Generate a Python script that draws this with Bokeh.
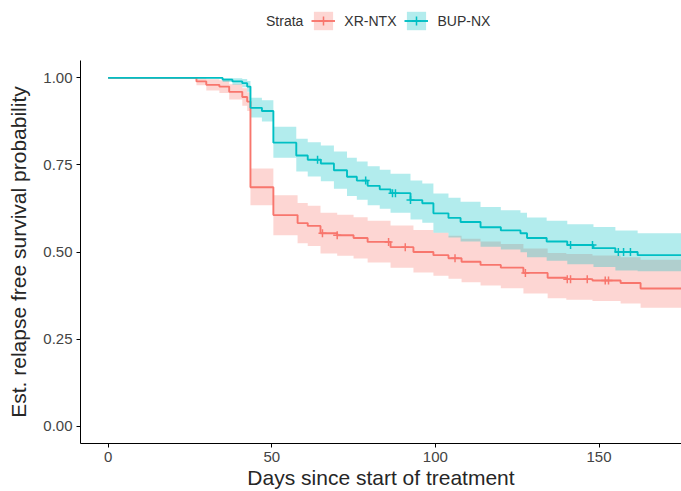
import numpy as np
from bokeh.plotting import figure
from bokeh.layouts import column
from bokeh.models import (Legend, LegendItem, FixedTicker,
                          NumeralTickFormatter, Range1d)
from bokeh.embed import file_html
from bokeh.resources import INLINE

# ---------------- data ----------------
# XR-NTX (red)
xr_t = [0, 27, 30, 34, 37, 41, 42.5, 43.5, 50.5, 57.9, 61, 64.9, 70, 75, 79.3,
        86.3, 93.3, 99.4, 104, 108, 113.8, 120, 126.9, 134.3, 140, 148, 156.6,
        162.7, 177]
xr_s = [1.000, 0.990, 0.980, 0.975, 0.960, 0.945, 0.932, 0.686, 0.606, 0.583,
        0.575, 0.554, 0.548, 0.540, 0.529, 0.514, 0.500, 0.491, 0.482, 0.472,
        0.463, 0.455, 0.440, 0.426, 0.422, 0.418, 0.411, 0.395, 0.395]
xr_up = [1.000, 1.000, 0.996, 0.993, 0.982, 0.970, 0.959, 0.740, 0.663, 0.641,
         0.633, 0.613, 0.607, 0.600, 0.590, 0.576, 0.563, 0.555, 0.547, 0.538,
         0.530, 0.523, 0.510, 0.497, 0.494, 0.490, 0.485, 0.478, 0.478]
xr_lo = [1.000, 0.979, 0.964, 0.957, 0.938, 0.920, 0.905, 0.634, 0.548, 0.525,
         0.517, 0.496, 0.489, 0.481, 0.470, 0.455, 0.441, 0.432, 0.423, 0.413,
         0.404, 0.396, 0.381, 0.367, 0.363, 0.359, 0.352, 0.340, 0.340]
xr_cens = [65.5, 70, 85.7, 90.8, 106, 127.5, 140.3, 141.3, 146.4, 151.9, 152.9]

# BUP-NX (teal)
bup_t = [0, 35, 38, 41, 42.5, 43.5, 47, 50.5, 57.5, 61, 65, 69, 73, 76, 79.3,
         83, 86.3, 92.4, 96, 99.4, 104, 107.7, 113.8, 120, 126, 128, 134,
         140.3, 148.3, 155, 161.8, 177]
bup_s = [1.000, 0.995, 0.990, 0.985, 0.975, 0.914, 0.905, 0.814, 0.777, 0.765,
         0.754, 0.735, 0.716, 0.705, 0.690, 0.680, 0.669, 0.649, 0.640, 0.611,
         0.598, 0.586, 0.571, 0.562, 0.554, 0.540, 0.530, 0.520, 0.511, 0.500,
         0.491, 0.491]
bup_up = [1.000, 1.000, 0.999, 0.997, 0.991, 0.943, 0.936, 0.860, 0.825, 0.815,
          0.806, 0.789, 0.771, 0.760, 0.746, 0.736, 0.725, 0.705, 0.697, 0.668,
          0.656, 0.644, 0.629, 0.620, 0.613, 0.599, 0.590, 0.580, 0.572, 0.562,
          0.554, 0.554]
bup_lo = [1.000, 0.988, 0.980, 0.973, 0.960, 0.886, 0.875, 0.771, 0.731, 0.717,
          0.703, 0.682, 0.661, 0.650, 0.634, 0.624, 0.613, 0.593, 0.584, 0.555,
          0.542, 0.530, 0.515, 0.507, 0.499, 0.485, 0.475, 0.465, 0.457, 0.447,
          0.445, 0.445]
bup_cens = [64, 78.7, 86.9, 87.8, 92.4, 141.3, 148, 155.9, 157.5, 159.6]

x_ticks = [0, 50, 100, 150]
y_ticks = [0, 0.25, 0.5, 0.75, 1.0]

legend_title = "Strata"
strata = ["XR-NTX", "BUP-NX"]
colors = ["#F8766D", "#00BFC4"]

FONT = "Liberation Sans"
LINE_W = 1.9

# ---------------- main plot ----------------
p = figure(width=681, height=431, output_backend="svg", toolbar_location=None,
           x_range=Range1d(-8.43, 175.2), y_range=Range1d(-0.05, 1.05),
           min_border_left=80, min_border_right=0, min_border_top=0,
           min_border_bottom=47)
p.outline_line_color = None
p.grid.visible = False
p.background_fill_color = "white"


def surv_at(times, t_arr, s_arr):
    t_arr = np.asarray(t_arr)
    s_arr = np.asarray(s_arr)
    idx = np.searchsorted(t_arr, times, side="right") - 1
    return s_arr[idx]


groups = [
    (xr_t, xr_s, xr_up, xr_lo, xr_cens),
    (bup_t, bup_s, bup_up, bup_lo, bup_cens),
]

for (t, s, up, lo, cens), col in zip(groups, colors):
    p.varea_step(x=t, y1=lo, y2=up, step_mode="after",
                 fill_color=col, fill_alpha=0.3)

for (t, s, up, lo, cens), col in zip(groups, colors):
    p.step(x=t, y=s, mode="after", line_color=col, line_width=LINE_W)
    cy = surv_at(cens, t, s)
    p.scatter(x=cens, y=cy, marker="cross", size=8,
              line_color=col, line_width=1.5)

for ax in (p.xaxis[0], p.yaxis[0]):
    ax.axis_line_color = "black"
    ax.axis_line_width = 1
    ax.major_tick_line_color = "black"
    ax.major_tick_out = 4
    ax.major_tick_in = 0
    ax.minor_tick_line_color = None
    ax.major_label_text_font = FONT
    ax.major_label_text_font_size = "15px"
    ax.major_label_text_color = "#444444"
    ax.major_label_standoff = 4
    ax.axis_label_text_font = FONT
    ax.axis_label_text_font_size = "21px"
    ax.axis_label_text_font_style = "normal"
    ax.axis_label_text_color = "#262626"

p.xaxis.ticker = FixedTicker(ticks=x_ticks)
p.yaxis.ticker = FixedTicker(ticks=y_ticks)
p.yaxis.formatter = NumeralTickFormatter(format="0.00")
p.yaxis.axis_label = "Est. relapse free survival probability"
p.yaxis.axis_label_standoff = 10
p.xaxis.axis_label = "Days since start of treatment"
p.xaxis.axis_label_standoff = 1

# ---------------- legend strip on top ----------------
# (its frame is aligned with the main plot's frame by the column layout)
lg = figure(width=681, height=60, output_backend="svg", toolbar_location=None,
            x_range=Range1d(0, 1), y_range=Range1d(0, 1),
            x_axis_location=None, y_axis_location=None,
            min_border_left=80, min_border_right=0, min_border_top=0,
            min_border_bottom=0)
lg.outline_line_color = None
lg.grid.visible = False

# key renderers hold a point outside the visible range: only their
# legend glyphs are seen
off_x = [-5, -4]
off_y = [-5, -5]
title_r = lg.scatter(x=off_x, y=off_y, size=1, fill_alpha=0, line_alpha=0)
items = [LegendItem(label=legend_title, renderers=[title_r])]
for col, name in zip(colors, strata):
    kb = lg.varea(x=off_x, y1=off_y, y2=off_y, fill_color=col, fill_alpha=0.3)
    kl = lg.line(x=off_x, y=off_y, line_color=col, line_width=LINE_W)
    kc = lg.scatter(x=off_x, y=off_y, marker="cross", size=8, line_color=col,
                    line_width=1.5)
    items.append(LegendItem(label=name, renderers=[kb, kl, kc]))

legend = Legend(items=items, orientation="horizontal",
                location=(153, 28), padding=0, margin=0, spacing=8,
                glyph_width=24, glyph_height=23, label_standoff=9,
                label_text_font=FONT, label_text_font_size="14px",
                label_text_color="#333333",
                border_line_color=None, background_fill_alpha=0)
lg.add_layout(legend, "center")

layout = column(lg, p, spacing=0)

open("out.html", "w").write(file_html(layout, INLINE))
